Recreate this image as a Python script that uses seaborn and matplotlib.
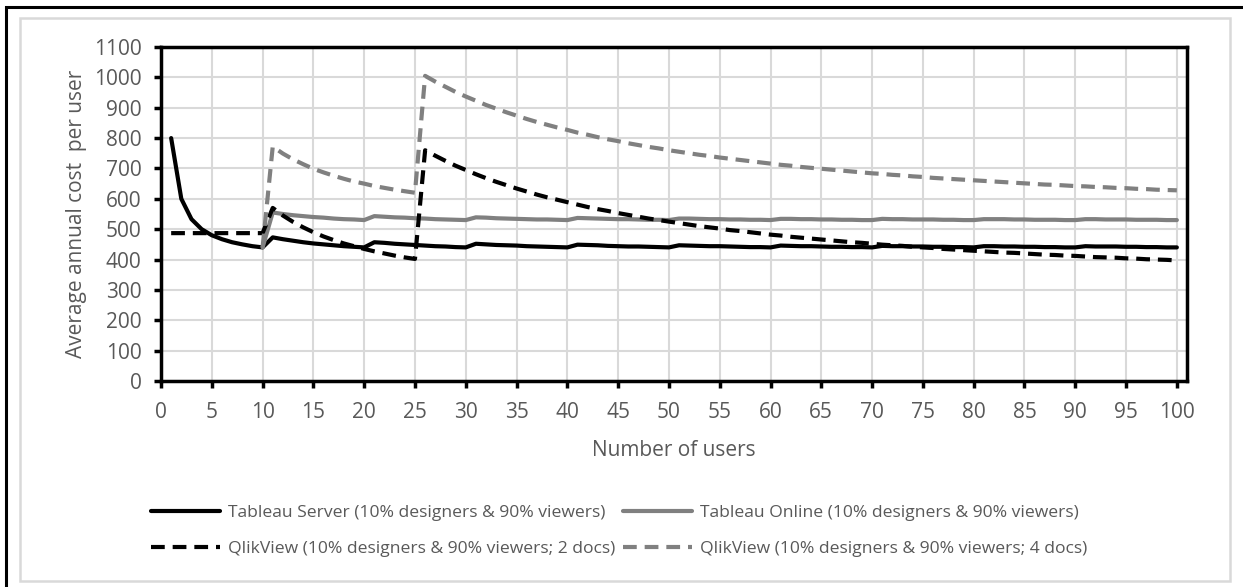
import numpy as np
import pandas as pd
import matplotlib
matplotlib.use("Agg")
import matplotlib.pyplot as plt
import seaborn as sns
from matplotlib.patches import Rectangle

# number of users on the x axis
users = list(range(1, 101))

# average annual cost per user
tableau_server = [
    800, 600, 533, 500, 480, 467, 457, 450, 444, 440,
    473, 467, 462, 457, 453, 450, 447, 444, 442, 440,
    457, 455, 452, 450, 448, 446, 444, 443, 441, 440,
    452, 450, 448, 447, 446, 444, 443, 442, 441, 440,
    449, 448, 447, 445, 444, 443, 443, 442, 441, 440,
    447, 446, 445, 444, 444, 443, 442, 441, 441, 440,
    446, 445, 444, 444, 443, 442, 442, 441, 441, 440,
    445, 444, 444, 443, 443, 442, 442, 441, 441, 440,
    444, 444, 443, 443, 442, 442, 441, 441, 440, 440,
    444, 443, 443, 443, 442, 442, 441, 441, 440, 440,
]

tableau_online = [
    None, None, None, None, None, None, None, None, None, 440,
    555, 550, 546, 543, 540, 538, 535, 533, 532, 530,
    543, 541, 539, 538, 536, 535, 533, 532, 531, 530,
    539, 538, 536, 535, 534, 533, 532, 532, 531, 530,
    537, 536, 535, 534, 533, 533, 532, 531, 531, 530,
    535, 535, 534, 533, 533, 532, 532, 531, 531, 530,
    534, 534, 533, 533, 532, 532, 531, 531, 530, 530,
    534, 533, 533, 532, 532, 532, 531, 531, 530, 530,
    533, 533, 533, 532, 532, 531, 531, 531, 530, 530,
    533, 533, 532, 532, 532, 531, 531, 531, 530, 530,
]

qlik_2docs = [
    487, 487, 487, 487, 487, 487, 487, 487, 487, 487,
    570, 545, 524, 506, 490, 476, 464, 453, 444, 435,
    427, 420, 413, 407, 402, 760, 742, 725, 709, 695,
    681, 668, 656, 645, 634, 624, 614, 605, 597, 589,
    581, 573, 566, 560, 553, 547, 541, 535, 530, 525,
    520, 515, 510, 506, 502, 497, 494, 490, 486, 482,
    479, 475, 472, 469, 466, 463, 460, 457, 455, 452,
    449, 447, 445, 442, 440, 438, 435, 433, 431, 429,
    427, 425, 423, 422, 420, 418, 416, 415, 413, 412,
    410, 408, 407, 406, 404, 403, 401, 400, 399, 397,
]

qlik_4docs = [
    None, None, None, None, None, None, None, None, None, 440,
    772, 749, 730, 714, 699, 687, 676, 666, 657, 650,
    642, 636, 630, 625, 620, 1005, 986, 969, 952, 937,
    923, 909, 897, 885, 874, 863, 853, 844, 835, 827,
    818, 811, 803, 796, 790, 783, 777, 771, 766, 760,
    755, 750, 745, 741, 736, 732, 728, 724, 720, 716,
    712, 709, 705, 702, 699, 696, 693, 690, 687, 684,
    682, 679, 677, 674, 672, 669, 667, 665, 663, 661,
    659, 657, 655, 653, 651, 649, 647, 646, 644, 642,
    641, 639, 638, 636, 635, 633, 632, 630, 629, 628,
]

series_names = [
    "Tableau Server (10% designers & 90% viewers)",
    "Tableau Online (10% designers & 90% viewers)",
    "QlikView (10% designers & 90% viewers; 2 docs)",
    "QlikView (10% designers & 90% viewers; 4 docs)",
]
series_values = [tableau_server, tableau_online, qlik_2docs, qlik_4docs]

x_ticks = list(range(0, 101, 5))
y_ticks = list(range(0, 1101, 100))

# styles
colors = ["#000000", "#808080", "#000000", "#808080"]
styles = ["-", "-", (0, (3.3, 1.9)), (0, (3.3, 1.9))]
text_grey = "#595959"

sns.set_style("white")
plt.rcParams["font.family"] = ["Open Sans", "DejaVu Sans"]

fig = plt.figure(figsize=(12.43, 5.87), dpi=100)
ax = fig.add_axes([161 / 1243, 1 - 381 / 587, (1187 - 161) / 1243, (381 - 47) / 587])

for name, vals, c, ls in zip(series_names, series_values, colors, styles):
    df = pd.DataFrame({"users": users, "cost": pd.to_numeric(pd.Series(vals), errors="coerce")}).dropna()
    sns.lineplot(data=df, x="users", y="cost", ax=ax, color=c, linestyle=ls,
                 linewidth=3, label=name)

ax.set_xlim(0, 101)
ax.set_ylim(0, 1100)
ax.set_xticks(x_ticks)
ax.set_yticks(y_ticks)
ax.grid(True, color="#d9d9d9", linewidth=1.5)
ax.set_axisbelow(True)
for s in ax.spines.values():
    s.set_visible(True)
    s.set_color("black")
    s.set_linewidth(2.5)

ax.tick_params(axis="both", direction="out", length=5, width=2.5, color="black",
               labelsize=15, labelcolor=text_grey, bottom=True, left=True)
ax.tick_params(axis="y", pad=9)
ax.tick_params(axis="x", pad=10)

ax.set_xlabel("Number of users", fontsize=15, color=text_grey, labelpad=12)
ax.set_ylabel("Average annual cost  per user", fontsize=15, color=text_grey, labelpad=5)

ax.legend_.remove()
handles, labels = ax.get_legend_handles_labels()
order = [0, 2, 1, 3]  # fill legend row by row
leg = fig.legend([handles[i] for i in order], [labels[i] for i in order], ncol=2,
                 loc="upper left", bbox_to_anchor=(151 / 1243, 1 - 505 / 587), frameon=False,
                 prop={"family": "Open Sans", "size": 12.6}, labelcolor=text_grey,
                 handlelength=3.95, handletextpad=0.45, columnspacing=0.45,
                 labelspacing=1.1, borderpad=0, borderaxespad=0)

# outer frames
fig.patches.append(Rectangle((20 / 1243, 1 - 581 / 587), (1230 - 20) / 1243, (581 - 18) / 587,
                             transform=fig.transFigure, fill=False,
                             edgecolor="#d9d9d9", linewidth=1.8))
fig.patches.append(Rectangle((6 / 1243, -0.05), 1.2, 1 - 7 / 587 + 0.05,
                             transform=fig.transFigure, fill=False,
                             edgecolor="black", linewidth=2.2))

fig.savefig("out.png", dpi=100)
